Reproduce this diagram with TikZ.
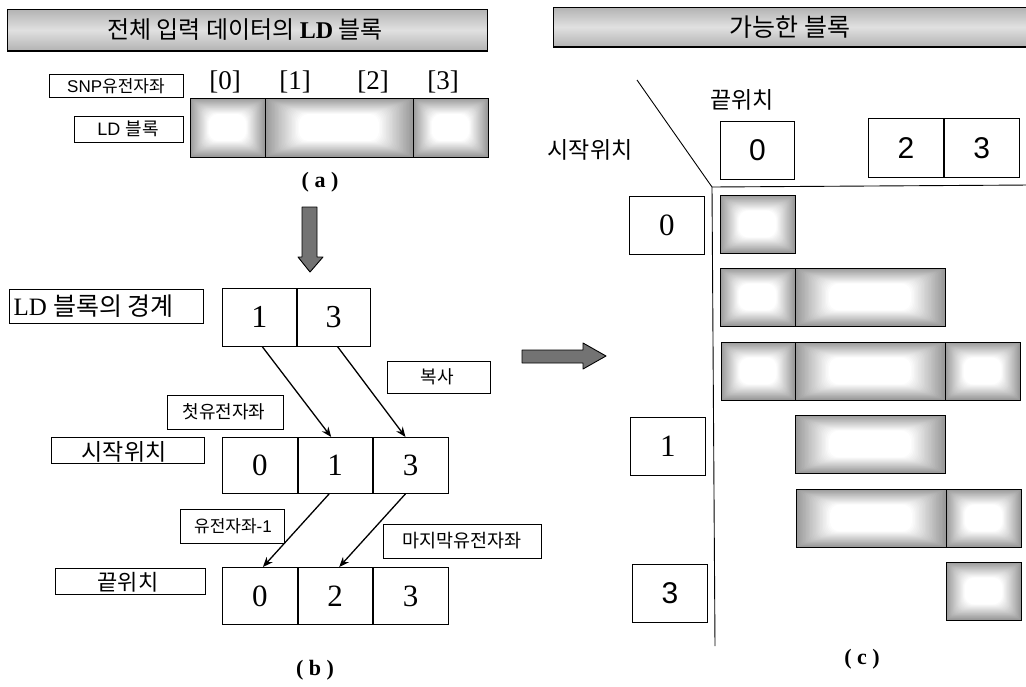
\documentclass[tikz,border=0pt]{standalone}
\usepackage{fontspec}
\setmainfont{Liberation Serif}
\setsansfont{Liberation Sans}
\newfontfamily\kr{Noto Sans CJK KR}
\usetikzlibrary{arrows.meta}
\newcommand\fs[1]{\fontsize{#1}{#1}\selectfont}
\newcommand\ldcell[5]{%
  \pgfmathsetmacro\lcw{#4-#2}\pgfmathsetmacro\lch{#5-#3}%
  \pgfmathsetmacro\lmx{min(0.25*\lcw,34)}\pgfmathsetmacro\lmy{0.27*\lch}%
  \fill[black!40] (#2,#3) rectangle (#4,#5);
  \foreach \i in {1,...,24}{%
    \pgfmathsetmacro\myt{\i/24}%
    \pgfmathsetmacro\myg{40*(1-\myt)}%
    \pgfmathsetmacro\myr{0.6*\myt*\lmy}%
    \fill[black!\myg, rounded corners=\myr pt] (#2+\myt*\lmx, #3+\myt*\lmy) rectangle (#4-\myt*\lmx, #5-\myt*\lmy);
  }%
  \node[draw, line width=0.9pt, inner sep=0, minimum width=\lcw pt, minimum height=\lch pt, anchor=north west] (#1) at (#2,#3) {};
}
\tikzset{
  lbl/.style={draw, line width=0.8pt, inner sep=0, anchor=north west},
  cell/.style={draw, line width=0.8pt, inner sep=0, anchor=north west},
  conn/.style={line width=1.3pt, -{Stealth[length=10pt,width=8pt]}},
  bigarrow/.style={fill=black!55, draw=black, line width=0.9pt, line join=round},
  titlebar/.style={draw, line width=0.9pt, top color=black!30, bottom color=black!30, middle color=black!12},
}
\begin{document}
\begin{tikzpicture}[x=1pt,y=-1pt]
\useasboundingbox (0,0) rectangle (1026,686);
\clip (0,0) rectangle (1026,686);
\fill[white] (0,0) rectangle (1026,686);

% ---------- title bars ----------
\path[titlebar] (7,9) rectangle (487,51);
\draw[line width=1.4pt] (7,51) -- (487,51);
\node (t1) at (245,30) {\fs{24}\kr 전체 입력 데이터의 {\rmfamily\bfseries LD} 블록};
\path[titlebar] (553,7) rectangle (1040,47);
\draw[line width=1.4pt] (553,47) -- (1040,47);
\node (t2) at (790,27) {\fs{25}\kr 가능한 블록};

% ---------- (a) ----------
\node[lbl, minimum width=134pt, minimum height=23pt] (snp) at (49,74) {};
\node (snpt) at (116,86) {\fs{17}\sffamily SNP{\kr 유전자좌}};
\node[lbl, minimum width=109pt, minimum height=26pt] (ldb) at (74,116) {};
\node (ldbt) at (128,129) {\fs{18}\sffamily LD {\kr 블록}};
\node (i0) at (225,82) {\fs{27}[0]};
\node (i1) at (295,82) {\fs{27}[1]};
\node (i2) at (373,82) {\fs{27}[2]};
\node (i3) at (443,82) {\fs{27}[3]};
\ldcell{a1}{190}{98}{265}{157}
\ldcell{a2}{265}{98}{413}{157}
\ldcell{a3}{413}{98}{488}{157}
\node (la) at (320,182) {\fs{22}\bfseries ( a )};

% ---------- down arrow ----------
\path[bigarrow] (302,207) -- (317,207) -- (317,257) -- (323,257) -- (310,272) -- (298,257) -- (302,257) -- cycle;

% ---------- (b) ----------
\node[lbl, minimum width=194pt, minimum height=34pt] (ldbd) at (9,289) {};
\node[anchor=west] (ldbdt) at (10,306) {\fs{25}LD {\kr 블록의 경계}};
\node[cell, minimum width=74pt, minimum height=58pt] (b1a) at (222,288) {\fs{32}1};
\node[cell, minimum width=73pt, minimum height=58pt] (b1b) at (b1a.north east) {\fs{32}3};

\node[lbl, minimum width=103pt, minimum height=32pt] (boksa) at (387,361) {};
\node (boksat) at (437,377) {\fs{18}\kr 복사};
\node[lbl, minimum width=116pt, minimum height=34pt] (first) at (167,395) {};
\node (firstt) at (224,412) {\fs{18}\kr 첫유전자좌};
\node[lbl, minimum width=153pt, minimum height=26pt] (start) at (51,437) {};
\node (startt) at (124,452) {\fs{23}\kr 시작위치};

\node[cell, minimum width=75pt, minimum height=56pt] (b2a) at (222,437) {\fs{31}0};
\node[cell, minimum width=74pt, minimum height=56pt] (b2b) at (b2a.north east) {\fs{31}1};
\node[cell, minimum width=75pt, minimum height=56pt] (b2c) at (b2b.north east) {\fs{31}3};

\node[lbl, minimum width=104pt, minimum height=34pt] (gene1) at (180,509) {};
\node (gene1t) at (233,526) {\fs{17}\kr 유전자좌{\sffamily -1}};
\node[lbl, minimum width=158pt, minimum height=34pt] (last) at (383,524) {};
\node (lastt) at (462,541) {\fs{18.5}\kr 마지막유전자좌};
\node[lbl, minimum width=150pt, minimum height=26pt] (endb) at (55,568) {};
\node (endbt) at (128,582) {\fs{22}\kr 끝위치};

\node[cell, minimum width=75pt, minimum height=57pt] (b3a) at (222,567) {\fs{31}0};
\node[cell, minimum width=74pt, minimum height=57pt] (b3b) at (b3a.north east) {\fs{31}2};
\node[cell, minimum width=75pt, minimum height=57pt] (b3c) at (b3b.north east) {\fs{31}3};

\draw[conn] ([xshift=3pt]b1a.south) -- ([xshift=-4pt]b2b.north);
\draw[conn] ([xshift=4pt]b1b.south) -- ([xshift=-5pt]b2c.north);
\draw[conn] ([xshift=-6pt]b2b.south) -- ([xshift=3pt]b3a.north);
\draw[conn] ([xshift=-5pt]b2c.south) -- ([xshift=4pt]b3b.north);

\node (lb) at (315,670) {\fs{22}\bfseries ( b )};

% ---------- right arrow ----------
\path[bigarrow] (522,350) -- (583,350) -- (583,343) -- (606,356) -- (583,369) -- (583,363) -- (522,363) -- cycle;

% ---------- (c) ----------
\coordinate (corner) at (712,187);
\draw[line width=0.9pt] (637,80) -- (corner) -- (715,646);
\draw[line width=0.9pt] (corner) -- (1030,185);
\node (endc) at (742,100) {\fs{23}\kr 끝위치};
\node (startc) at (590,150) {\fs{23}\kr 시작위치};

\node[cell, minimum width=74pt, minimum height=58pt] (c0) at (720,121) {\fs{30}\sffamily 0};
\node[cell, minimum width=75pt, minimum height=59pt] (c2) at (868,118) {\fs{30}\sffamily 2};
\node[cell, minimum width=75pt, minimum height=59pt] (c3) at (c2.north east) {\fs{30}\sffamily 3};

\node[cell, minimum width=75pt, minimum height=58pt] (r0) at (629,196) {\fs{31}0};
\node[cell, minimum width=75pt, minimum height=58pt] (r1) at (630,417) {\fs{31}1};
\node[cell, minimum width=75pt, minimum height=58pt] (r3) at (632,564) {\fs{30}\sffamily 3};

\ldcell{p1a}{720}{195}{795}{253}
\ldcell{p2a}{720}{268}{795}{326}
\ldcell{p2b}{795}{268}{945}{326}
\ldcell{p3a}{721}{342}{795}{400}
\ldcell{p3b}{795}{342}{945}{400}
\ldcell{p3c}{945}{342}{1020}{400}
\ldcell{p4b}{795}{415}{945}{473}
\ldcell{p5b}{796}{489}{946}{547}
\ldcell{p5c}{946}{489}{1021}{547}
\ldcell{p6c}{946}{562}{1021}{620}

\node (lc) at (862,659) {\fs{22}\bfseries ( c )};
\end{tikzpicture}
\end{document}
